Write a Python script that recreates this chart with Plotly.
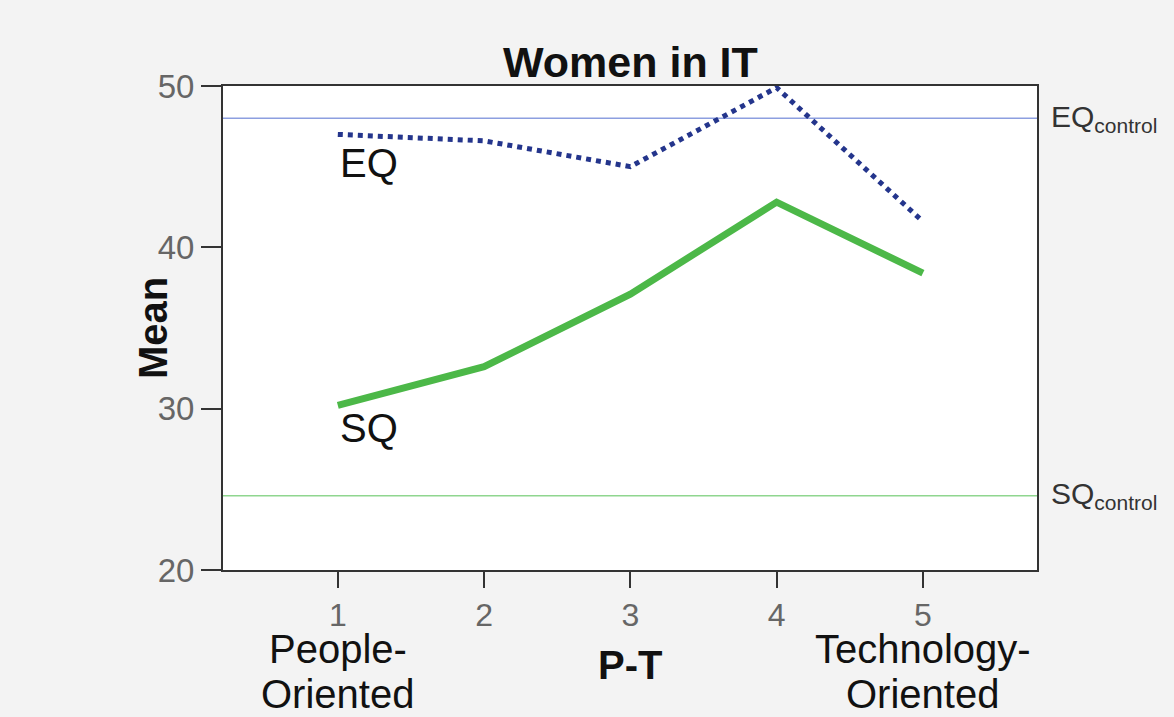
import plotly.graph_objects as go

pt = [1, 2, 3, 4, 5]
eq_mean = [47.0, 46.6, 45.0, 49.9, 41.6]
sq_mean = [30.2, 32.6, 37.1, 42.8, 38.4]
eq_control = 48.0
sq_control = 24.6
y_ticks = [20, 30, 40, 50]

FONT = "Liberation Sans, Arial, sans-serif"
BG = "#f3f3f3"

fig = go.Figure()
fig.add_trace(go.Scatter(x=pt, y=eq_mean, mode="lines", name="EQ",
                         line=dict(color="#24358c", width=5, dash="dot")))
fig.add_trace(go.Scatter(x=pt, y=sq_mean, mode="lines", name="SQ",
                         line=dict(color="#4cb848", width=7)))

fig.add_shape(type="line", xref="paper", x0=0, x1=1, yref="y", y0=eq_control, y1=eq_control,
              line=dict(color="#8d9fe0", width=1.5), layer="below")
fig.add_shape(type="line", xref="paper", x0=0, x1=1, yref="y", y0=sq_control, y1=sq_control,
              line=dict(color="#8fd68f", width=1.5), layer="below")

ann = []
ann.append(dict(text="<b>Women in IT</b>", xref="paper", x=0.5, yref="paper", y=1,
                yshift=24, yanchor="middle", showarrow=False,
                font=dict(size=43, color="#111", family=FONT)))
ann.append(dict(text="<b>Mean</b>", xref="paper", x=0, xshift=-70, xanchor="center",
                yref="paper", y=0.5, yanchor="middle",
                textangle=-90, showarrow=False, font=dict(size=40, color="#111", family=FONT)))
ann.append(dict(text="<b>P-T</b>", xref="paper", x=0.5, yref="paper", y=0, yshift=-95,
                yanchor="middle", showarrow=False, font=dict(size=40, color="#111", family=FONT)))
for xv, l1, l2 in [(pt[0], "People-", "Oriented"), (pt[-1], "Technology-", "Oriented")]:
    ann.append(dict(text=l1, x=xv, xref="x", yref="paper", y=0, yshift=-79, yanchor="middle",
                    showarrow=False, font=dict(size=40, color="#111", family=FONT)))
    ann.append(dict(text=l2, x=xv, xref="x", yref="paper", y=0, yshift=-124, yanchor="middle",
                    showarrow=False, font=dict(size=40, color="#111", family=FONT)))
ann.append(dict(text="EQ", x=pt[0], xref="x", xanchor="left", y=45.2, yref="y", yanchor="middle",
                showarrow=False, font=dict(size=40, color="#111", family=FONT)))
ann.append(dict(text="SQ", x=pt[0], xref="x", xanchor="left", y=28.8, yref="y", yanchor="middle",
                showarrow=False, font=dict(size=40, color="#111", family=FONT)))
ann.append(dict(text="EQ<sub>control</sub>", xref="paper", x=1, xshift=12, xanchor="left",
                y=eq_control, yref="y", yanchor="middle", showarrow=False,
                font=dict(size=30, color="#333", family=FONT)))
ann.append(dict(text="SQ<sub>control</sub>", xref="paper", x=1, xshift=12, xanchor="left",
                y=sq_control, yref="y", yanchor="middle", showarrow=False,
                font=dict(size=30, color="#333", family=FONT)))

fig.update_layout(
    width=1174, height=717,
    margin=dict(l=223, r=137, t=86, b=147),
    paper_bgcolor=BG, plot_bgcolor="#ffffff",
    showlegend=False,
    annotations=ann,
    font=dict(family=FONT),
)
fig.update_xaxes(range=[0.215, 5.78], tickvals=pt, ticks="outside", ticklen=16, tickwidth=2,
                 tickcolor="#333", showline=True, linecolor="#333", linewidth=2, mirror=True,
                 showgrid=False, zeroline=False, tickfont=dict(size=32, color="#666", family=FONT))
fig.update_yaxes(range=[20, 50], tickvals=y_ticks, ticks="outside", ticklen=20, tickwidth=2,
                 tickcolor="#333", showline=True, linecolor="#333", linewidth=2, mirror=True,
                 showgrid=False, zeroline=False, tickfont=dict(size=33, color="#666", family=FONT))

fig.write_html("out.html", config={"displayModeBar": False},
               post_script="document.body.style.margin='0';document.body.style.background='%s';" % BG)
